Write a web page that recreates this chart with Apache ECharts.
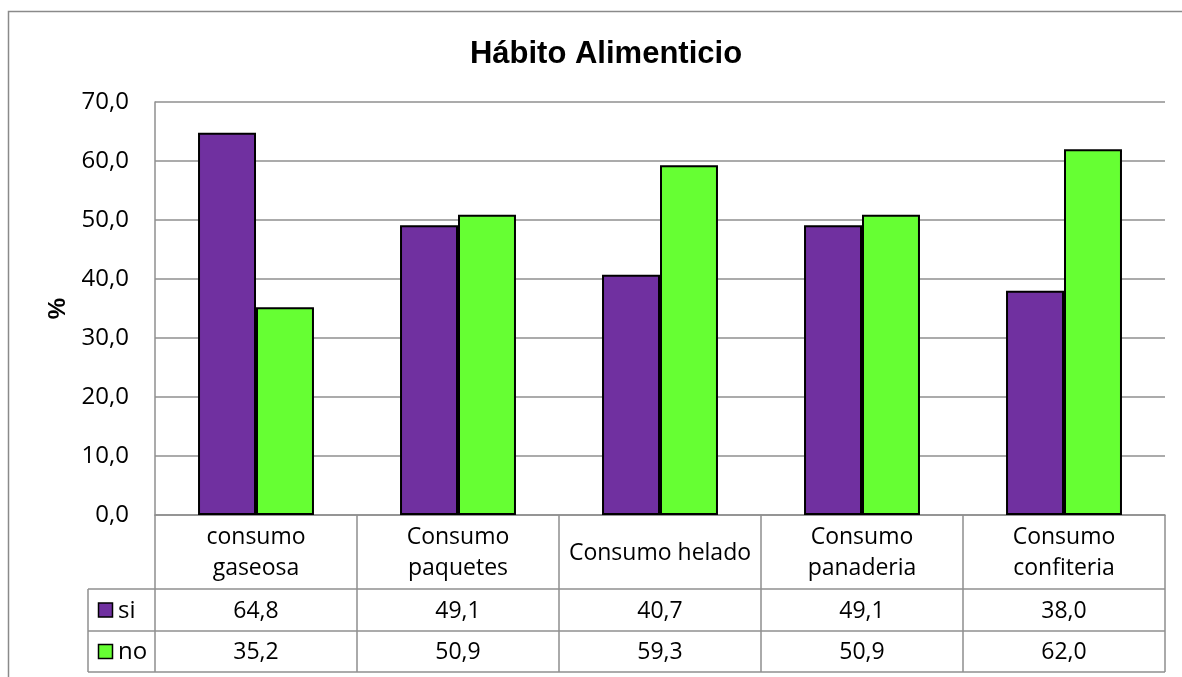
<!DOCTYPE html>
<html>
<head>
<meta charset="utf-8">
<title>Hábito Alimenticio</title>
<script src="https://cdn.jsdelivr.net/npm/echarts@6/dist/echarts.min.js"></script>
<style>
  html, body { margin: 0; padding: 0; background: #fff; }
  #chart { width: 1182px; height: 677px; }
</style>
</head>
<body>
<div id="chart"></div>
<script>
// Food-habit survey: share of "si" / "no" answers per item (%)
const categories = ['consumo\ngaseosa', 'Consumo\npaquetes', 'Consumo helado', 'Consumo\npanaderia', 'Consumo\nconfiteria'];
const seriesNames = ['si', 'no'];
const siValues = [64.8, 49.1, 40.7, 49.1, 38.0];
const noValues = [35.2, 50.9, 59.3, 50.9, 62.0];
const seriesColors = ['#7030A0', '#66FF33'];
const yMin = 0, yMax = 70, yStep = 10;

const BODY_FONT = '"Open Sans", "Noto Sans", sans-serif';
const GRID_GRAY = '#8f8f8f';

// plot / table geometry
const G = { left: 155, top: 102, right: 1165, bottom: 515 };
const headerBottom = 589, rowMid = 631, tableBottom = 672, legendLeft = 88;

const fmt = v => v.toFixed(1).replace('.', ',');

const chart = echarts.init(document.getElementById('chart'), null, { renderer: 'canvas' });

const option = {
  animation: false,
  backgroundColor: '#ffffff',
  title: {
    text: 'Hábito Alimenticio',
    left: 601, top: 34, textAlign: 'center',
    textStyle: { fontFamily: '"Liberation Sans", Arial, sans-serif', fontWeight: 'bold', fontSize: 31, color: '#000' }
  },
  grid: { left: G.left, top: G.top, width: G.right - G.left, height: G.bottom - G.top, containLabel: false },
  xAxis: {
    type: 'category',
    data: categories,
    boundaryGap: true,
    axisLine: { show: true, lineStyle: { color: GRID_GRAY, width: 1.5 } },
    axisTick: { show: true, interval: 0, alignWithLabel: false, inside: false, length: tableBottom - G.bottom, lineStyle: { color: GRID_GRAY, width: 1.5 } },
    axisLabel: { show: false }
  },
  yAxis: {
    type: 'value',
    min: yMin, max: yMax, interval: yStep,
    name: '%',
    nameLocation: 'middle',
    nameGap: 84,
    nameRotate: 90,
    nameTextStyle: { fontFamily: '"Liberation Sans", Arial, sans-serif', fontWeight: 'bold', fontSize: 24, color: '#000' },
    axisLine: { show: true, lineStyle: { color: GRID_GRAY, width: 1.5 } },
    axisTick: { show: false },
    axisLabel: { formatter: v => fmt(v), fontFamily: BODY_FONT, fontSize: 24, color: '#000', margin: 26 },
    splitLine: { show: true, lineStyle: { color: GRID_GRAY, width: 1.5 } }
  },
  series: [
    { name: seriesNames[0], type: 'bar', data: siValues, barGap: '0%', barCategoryGap: '42.6%',
      itemStyle: { color: seriesColors[0], borderColor: '#000', borderWidth: 2 } },
    { name: seriesNames[1], type: 'bar', data: noValues, barGap: '0%', barCategoryGap: '42.6%',
      itemStyle: { color: seriesColors[1], borderColor: '#000', borderWidth: 2 } }
  ]
};
chart.setOption(option);

// data table under the plot, laid out from the category axis
const graphics = [];
const line = (x1, y1, x2, y2) => ({
  type: 'line', silent: true, z: 10,
  shape: { x1, y1, x2, y2 },
  style: { stroke: GRID_GRAY, lineWidth: 1.5 }
});
const text = (x, y, t, extra) => ({
  type: 'text', silent: true, z: 11, x, y,
  style: Object.assign({ text: t, fill: '#000', font: '23px ' + BODY_FONT, align: 'center', verticalAlign: 'middle', lineHeight: 31 }, extra || {})
});

// outer chart frame
graphics.push({ type: 'rect', silent: true, z: 0, shape: { x: 8.5, y: 11.5, width: 1300, height: 800 },
  style: { fill: 'none', stroke: '#8a8a8a', lineWidth: 1.5 } });

// horizontal rules of the table
graphics.push(line(legendLeft, headerBottom, G.right, headerBottom));
graphics.push(line(legendLeft, rowMid, G.right, rowMid));
graphics.push(line(legendLeft, tableBottom, G.right, tableBottom));
graphics.push(line(legendLeft, headerBottom, legendLeft, tableBottom));

const headerMid = (G.bottom + headerBottom) / 2;
const rowMids = [(headerBottom + rowMid) / 2, (rowMid + tableBottom) / 2];
const rows = [siValues, noValues];

categories.forEach((c, i) => {
  const cx = chart.convertToPixel({ xAxisIndex: 0 }, i);
  graphics.push(text(cx, headerMid + 1, c));
  rows.forEach((vals, r) => graphics.push(text(cx, rowMids[r] + 1, fmt(vals[i]))));
});

// legend keys in the first column
seriesNames.forEach((n, r) => {
  graphics.push({ type: 'rect', silent: true, z: 11,
    shape: { x: 98.5, y: rowMids[r] - 7, width: 14, height: 14 },
    style: { fill: seriesColors[r], stroke: '#000', lineWidth: 1.5 } });
  graphics.push(text(118, rowMids[r] + 1, n, { align: 'left', font: '24px ' + BODY_FONT }));
});

chart.setOption({ graphic: graphics });
</script>
</body>
</html>
